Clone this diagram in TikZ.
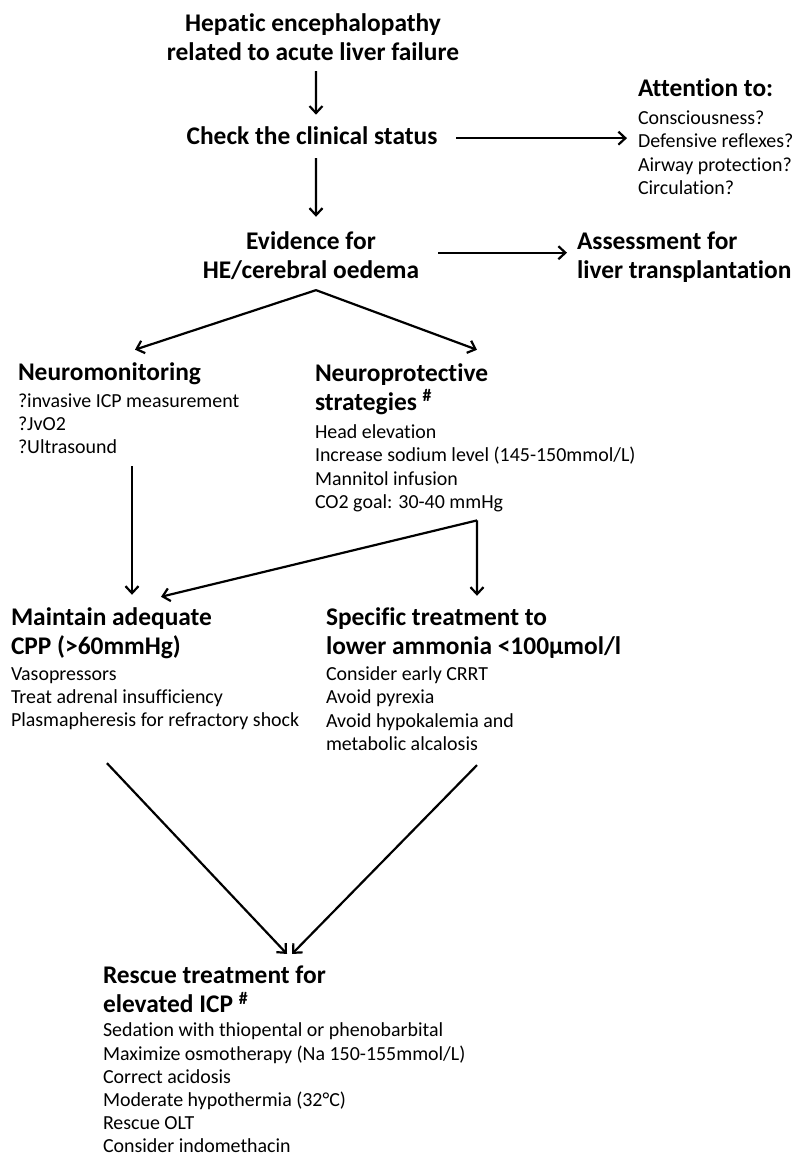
\documentclass[tikz,border=0pt]{standalone}
\usepackage{fontspec}
\setmainfont{Carlito}[Ligatures=NoCommon]
\usetikzlibrary{arrows.meta}
\begin{document}
\begin{tikzpicture}[>={Straight Barb[length=7bp,width=13bp]},line join=bevel,
  every node/.style={inner sep=0pt,outer sep=0pt},
  head/.style={font=\bfseries\fontsize{25.5}{30}\selectfont,align=left},
  items/.style={font=\fontsize{20}{23.5}\selectfont,align=left},
  link/.style={black,line width=2.2bp,->},]
\useasboundingbox (0bp,0bp) rectangle (795bp,1157bp);
%%
\node (title) at (313bp,1096bp) [head,align=center,anchor=base] {Hepatic encephalopathy\\related to acute liver failure};
  \node (check) at (312bp,1012bp) [head,anchor=base] {Check the clinical status};
  \node (attn) at (638bp,1060bp) [head,anchor=base west] {Attention to:};
  \node (attnlist) at (638bp,962.5bp) [items,anchor=base west] {Consciousness?\\Defensive reflexes?\\Airway protection?\\Circulation?};
  \node (evidence) at (311bp,878bp) [head,align=center,anchor=base] {Evidence for\\HE/cerebral oedema};
  \node (assess) at (577bp,878bp) [head,anchor=base west] {Assessment for\\liver transplantation};
%
  \node (neuromon) at (18bp,776bp) [head,anchor=base west] {Neuromonitoring};
  \node (neuromonlist) at (18bp,703bp) [items,anchor=base west] {?invasive ICP measurement\\?JvO2\\?Ultrasound};
  \node (neuroprot) at (315bp,746bp) [head,anchor=base west] {Neuroprotective\\strategies \textsuperscript{\#}};
  \node (neuroprotlist) at (315bp,648.5bp) [items,anchor=base west] {Head elevation\\Increase sodium level (145-150mmol/L)\\Mannitol infusion\\CO2 goal: 30-40 mmHg};
%
  \node (maintain) at (11bp,502bp) [head,anchor=base west] {Maintain adequate\\CPP (>60mmHg)};
  \node (maintainlist) at (11bp,430bp) [items,anchor=base west] {Vasopressors\\Treat adrenal insufficiency\\Plasmapheresis for refractory shock};
  \node (specific) at (326bp,502bp) [head,anchor=base west] {Specific treatment to\\lower ammonia <100µmol/l};
  \node (specificlist) at (326bp,406.5bp) [items,anchor=base west] {Consider early CRRT\\Avoid pyrexia\\Avoid hypokalemia and\\metabolic alcalosis};
%
  \node (rescue) at (103bp,144bp) [head,anchor=base west] {Rescue treatment for\\elevated ICP \textsuperscript{\#}};
  \node (rescuelist) at (103bp,4.5bp) [items,anchor=base west,font=\fontsize{20}{23.2}\selectfont] {Sedation with thiopental or phenobarbital\\Maximize osmotherapy (Na 150-155mmol/L)\\Correct acidosis\\Moderate hypothermia (32°C)\\Rescue OLT\\Consider indomethacin};
%
  \coordinate (split1) at ([xshift=5bp,yshift=-10bp]evidence.south);
  \coordinate (split2) at ([xshift=162bp,yshift=-8.5bp]neuroprotlist.south west);
%%
  \draw [link] ([xshift=3bp,yshift=-10bp]title.south) -- ([xshift=4bp,yshift=12.5bp]check.north);
  \draw [link] ([xshift=19bp,yshift=-2bp]check.east) -- ([xshift=-11bp,yshift=-2bp]attnlist.west |- check.east);
  \draw [link] ([xshift=4bp,yshift=-13bp]check.south) -- ([xshift=5bp,yshift=14.5bp]evidence.north);
  \draw [link] ([xshift=19bp,yshift=3bp]evidence.east) -- ([xshift=-10bp,yshift=3bp]assess.west |- evidence.east);
  \draw [link] (split1) -- ([xshift=117bp,yshift=13.5bp]neuromon.north west);
  \draw [link] (split1) -- ([xshift=162bp,yshift=13.5bp]neuroprot.north west);
  \draw [link] ([xshift=114bp,yshift=-12bp]neuromonlist.south west) -- ([xshift=121bp,yshift=12.5bp]maintain.north west);
  \draw [link] (split2) -- ([xshift=151bp,yshift=11.5bp]specific.north west);
  \draw [link] (split2) -- ([xshift=150bp,yshift=10.5bp]maintain.north west);
  \draw [link] ([xshift=96bp,yshift=-33bp]maintainlist.south west) -- ([xshift=184bp,yshift=11.5bp]rescue.north west);
  \draw [link] ([xshift=151bp,yshift=-14.5bp]specificlist.south west) -- ([xshift=189bp,yshift=11.5bp]rescue.north west);
%
\end{tikzpicture}
\end{document}
